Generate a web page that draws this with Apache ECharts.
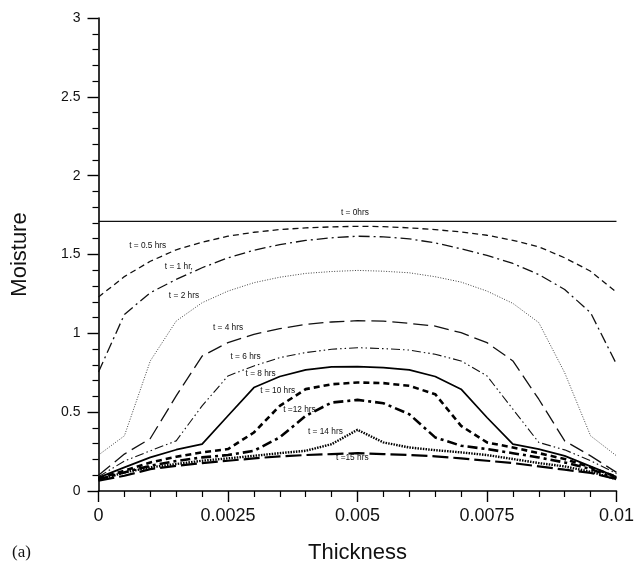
<!DOCTYPE html>
<html><head><meta charset="utf-8">
<script src="https://cdn.jsdelivr.net/npm/echarts@6/dist/echarts.min.js"></script>
<style>html,body{margin:0;padding:0;background:#fff}#c{width:637px;height:569px}</style>
</head><body><div id="c"></div>
<script>
const thickness = [0,0.0005,0.001,0.0015,0.002,0.0025,0.003,0.0035,0.004,0.0045,0.005,0.0055,0.006,0.0065,0.007,0.0075,0.008,0.0085,0.009,0.0095,0.01];
const t0  = [1.71,1.71,1.71,1.71,1.71,1.71,1.71,1.71,1.71,1.71,1.71,1.71,1.71,1.71,1.71,1.71,1.71,1.71,1.71,1.71,1.71];
const t05 = [1.23,1.36,1.457,1.53,1.578,1.616,1.641,1.658,1.669,1.675,1.679,1.677,1.669,1.658,1.643,1.622,1.59,1.549,1.479,1.394,1.26];
const t1  = [0.755,1.12,1.258,1.342,1.416,1.479,1.527,1.563,1.589,1.606,1.616,1.612,1.599,1.574,1.536,1.494,1.443,1.373,1.278,1.131,0.804];
const t2  = [0.228,0.35,0.825,1.078,1.194,1.268,1.321,1.356,1.38,1.392,1.399,1.394,1.384,1.359,1.325,1.268,1.19,1.068,0.75,0.35,0.223];
const t4  = [0.1,0.234,0.333,0.603,0.856,0.941,0.994,1.03,1.057,1.072,1.08,1.078,1.063,1.046,1.004,0.941,0.825,0.582,0.318,0.223,0.118];
const t6  = [0.09,0.19,0.255,0.318,0.54,0.73,0.793,0.846,0.878,0.899,0.909,0.903,0.894,0.867,0.825,0.73,0.519,0.308,0.261,0.192,0.11];
const t8  = [0.085,0.15,0.213,0.262,0.297,0.477,0.656,0.726,0.768,0.787,0.789,0.783,0.768,0.726,0.646,0.466,0.297,0.266,0.223,0.156,0.09];
const t10 = [0.08,0.129,0.181,0.217,0.245,0.266,0.371,0.54,0.646,0.677,0.688,0.684,0.667,0.614,0.413,0.308,0.276,0.24,0.203,0.15,0.09];
const t12 = [0.075,0.118,0.16,0.19,0.213,0.228,0.255,0.34,0.477,0.561,0.578,0.557,0.487,0.34,0.287,0.266,0.24,0.213,0.181,0.139,0.08];
const t14 = [0.07,0.118,0.15,0.171,0.192,0.207,0.223,0.24,0.255,0.297,0.388,0.308,0.276,0.259,0.245,0.228,0.203,0.177,0.156,0.122,0.075];
const t15 = [0.065,0.097,0.139,0.16,0.177,0.192,0.207,0.22,0.228,0.234,0.24,0.234,0.228,0.22,0.207,0.192,0.177,0.156,0.135,0.115,0.075];

const seriesNames = ['t = 0hrs','t = 0.5 hrs','t = 1 hr,','t = 2 hrs','t = 4 hrs','t = 6 hrs','t = 8 hrs','t = 10 hrs','t =12 hrs','t = 14 hrs','t =15 hrs'];
const seriesValues = [t0,t05,t1,t2,t4,t6,t8,t10,t12,t14,t15];
// label anchor positions in data coordinates [thickness, moisture]
const labelPos = [[0.00495,1.766],[0.00095,1.557],[0.00155,1.42],[0.00165,1.24],[0.00250,1.036],[0.00284,0.854],[0.00313,0.746],[0.00346,0.633],[0.00388,0.513],[0.00438,0.373],[0.00490,0.21]];

const xTicks = [0,0.0025,0.005,0.0075,0.01];
const yTicks = [0,0.5,1,1.5,2,2.5,3];

const styles = [
  {type:'solid', width:1.2, color:'#111'},
  {type:[6,4], width:1.3, color:'#111'},
  {type:[11,4,2,4], width:1.3, color:'#111'},
  {type:[1,1.6], width:1, color:'#444'},
  {type:[15,6], width:1.3, color:'#111'},
  {type:[9,3,1.5,3,1.5,3], width:1.1, color:'#111'},
  {type:'solid', width:1.7, color:'#000'},
  {type:[6,4], width:2.6, color:'#000'},
  {type:[10,4,3,4], width:2.6, color:'#000'},
  {type:[1.5,1.2], width:2.4, color:'#000'},
  {type:[16,5], width:2.2, color:'#000'}
];

const FONT = 'Liberation Sans, Arial, sans-serif';
const chart = echarts.init(document.getElementById('c'), null, {renderer:'canvas'});
const series = seriesValues.map((vals,i)=>({
  name: seriesNames[i],
  type:'line',
  data: thickness.map((x,j)=>[x, vals[j]]),
  showSymbol:false,
  symbol:'none',
  smooth:false,
  lineStyle: styles[i],
  animation:false,
  z: 2,
  markPoint:{
    symbol:'circle', symbolSize:0, silent:true, animation:false,
    label:{show:true, formatter: seriesNames[i], fontSize:8.3, color:'#111', fontFamily:FONT, position:'inside'},
    data:[{coord: labelPos[i]}]
  }
}));

chart.setOption({
  animation:false,
  backgroundColor:'#fff',
  grid:{left:98.5, right:16.5, top:18, bottom:77, containLabel:false},
  xAxis:{
    type:'value', min:0, max:0.01, interval:0.0025,
    name:'Thickness', nameLocation:'middle', nameGap:51,
    nameTextStyle:{fontSize:22, color:'#111', fontFamily:FONT},
    axisLine:{show:true, onZero:false, lineStyle:{color:'#000', width:1.6}},
    axisTick:{show:true, inside:false, length:11, lineStyle:{color:'#000', width:1.4}},
    minorTick:{show:true, splitNumber:5, length:6, lineStyle:{color:'#000', width:1.2}},
    splitLine:{show:false},
    axisLabel:{fontSize:18, color:'#111', margin:16, fontFamily:FONT,
      formatter:(v)=>{ const k = xTicks.find(t=>Math.abs(t-v)<1e-9); return k===undefined?'':String(k); }}
  },
  yAxis:{
    type:'value', min:0, max:3, interval:0.5,
    name:'Moisture', nameLocation:'middle', nameGap:68, nameRotate:90,
    nameTextStyle:{fontSize:22, color:'#111', fontFamily:FONT},
    axisLine:{show:true, onZero:false, lineStyle:{color:'#000', width:1.6}},
    axisTick:{show:true, inside:false, length:11, lineStyle:{color:'#000', width:1.4}},
    minorTick:{show:true, splitNumber:5, length:6, lineStyle:{color:'#000', width:1.2}},
    splitLine:{show:false},
    axisLabel:{fontSize:14, color:'#111', margin:18, fontFamily:FONT,
      formatter:(v)=>{ const k = yTicks.find(t=>Math.abs(t-v)<1e-9); return k===undefined?'':String(k); }}
  },
  graphic:[{type:'text', left:12, top:544, style:{text:'(a)', font:'17px "Liberation Serif", "Times New Roman", serif', fill:'#111'}}],
  series: series
});
</script></body></html>
